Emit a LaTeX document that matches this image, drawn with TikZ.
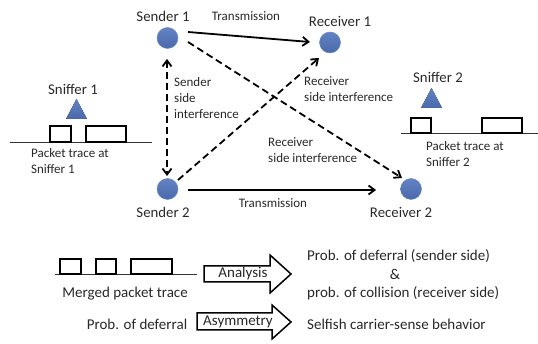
\documentclass[tikz,border=0pt]{standalone}
\usepackage{fontspec}
\setmainfont{Carlito}
\usetikzlibrary{arrows.meta}
\definecolor{circblue}{RGB}{79,114,186}
\definecolor{txt}{RGB}{40,40,40}
\begin{document}
\begin{tikzpicture}[x=1pt,y=-1pt,
  lbl/.style={font=\fontsize{14.8}{17}\selectfont, text=txt, inner sep=0pt},
  small/.style={font=\fontsize{13}{16}\selectfont, text=txt, inner sep=0pt, align=left},
  big/.style={font=\fontsize{15}{18.5}\selectfont, text=txt, inner sep=0pt},
  station/.style={circle, minimum size=21pt, inner sep=0pt, top color=circblue!88!white, bottom color=circblue!92!black, draw=circblue!80!white, line width=0.5pt},
  sniffer/.style={top color=circblue!88!white, bottom color=circblue!92!black},
  tx/.style={line width=1.8pt, -{Straight Barb[length=6pt,width=9pt]}},
  intf/.style={line width=1.8pt, dash pattern=on 7pt off 4pt, -{Straight Barb[length=6pt,width=9pt]}},
  pkt/.style={draw, line width=1.5pt},
  trace/.style={line width=0.7pt, draw=black!80},
  bigarrow/.style={draw, line width=1.5pt, fill=white}
]
\useasboundingbox (0,0) rectangle (538,344);

% stations
\node[station] (s1) at (167.5,38) {};
\node[station] (r1) at (330,42.5) {};
\node[station] (s2) at (167.5,189) {};
\node[station] (r2) at (411,189) {};

\node[lbl] (s1l) at (163,16) {Sender 1};
\node[lbl] (r1l) at (340,21) {Receiver 1};
\node[lbl] (s2l) at (163,212) {Sender 2};
\node[lbl] (r2l) at (401,212) {Receiver 2};

% connectors
\coordinate (t1a) at (188,32);
\coordinate (t1b) at (310,42);
\draw[tx] (t1a) -- (t1b);
\node[small] (t1l) at (246,16) {Transmission};

\coordinate (t2a) at (188,190);
\coordinate (t2b) at (376,190);
\draw[tx] (t2a) -- (t2b);
\node[small] (t2l) at (273,203) {Transmission};

\coordinate (v1) at (167,59);
\coordinate (v2) at (167,176);
\draw[intf,{Straight Barb[length=6pt,width=9pt]}-{Straight Barb[length=6pt,width=9pt]}] (v1) -- (v2);

\coordinate (d1a) at (188,42);
\coordinate (d1b) at (402,178);
\draw[intf] (d1a) -- (d1b);

\coordinate (d2a) at (178,180);
\coordinate (d2b) at (319,58);
\draw[intf] (d2a) -- (d2b);

\node[small, anchor=west] (ssi) at (174,98.5) {Sender\\side\\interference};
\node[small, anchor=west] (rsi1) at (304,89) {Receiver\\side interference};
\node[small, anchor=west] (rsi2) at (268,150) {Receiver\\side interference};

% sniffer 1
\node[lbl] (sn1l) at (73,89.5) {Sniffer 1};
\coordinate (tr1a) at (66,119);
\coordinate (tr1b) at (87,119);
\coordinate (tr1c) at (76.5,99);
\fill[sniffer] (tr1a) -- (tr1b) -- (tr1c) -- cycle;
\coordinate (l1a) at (10,142);
\coordinate (l1b) at (152,142);
\draw[trace] (l1a) -- (l1b);
\draw[pkt] (50,126) rectangle (71,142);
\draw[pkt] (86,126) rectangle (126,142);
\node[small, anchor=west] (pt1) at (31,161) {Packet trace at\\Sniffer 1};

% sniffer 2
\node[lbl] (sn2l) at (438,77) {Sniffer 2};
\coordinate (tr2a) at (421,108);
\coordinate (tr2b) at (442,108);
\coordinate (tr2c) at (431.5,88);
\fill[sniffer] (tr2a) -- (tr2b) -- (tr2c) -- cycle;
\coordinate (l2a) at (401,133);
\coordinate (l2b) at (538,133);
\draw[trace] (l2a) -- (l2b);
\draw[pkt] (411,118) rectangle (431,133);
\draw[pkt] (482,118) rectangle (522,133);
\node[small, anchor=west] (pt2) at (426,154) {Packet trace at\\Sniffer 2};

% merged trace
\coordinate (lma) at (55,274);
\coordinate (lmb) at (197,274);
\draw[trace] (lma) -- (lmb);
\draw[pkt] (60,259) rectangle (81,274);
\draw[pkt] (96,259) rectangle (116,274);
\draw[pkt] (131,259) rectangle (172,274);
\node[big] (mpt) at (125,294) {Merged packet trace};

% big arrows
\draw[bigarrow] (204,266) -- (270,266) -- (270,255) -- (291,274) -- (270,293) -- (270,282) -- (204,282) -- cycle;
\node[big] (ana) at (243,274) {Analysis};
\draw[bigarrow] (197,313) -- (272,313) -- (272,305) -- (291,322) -- (272,339) -- (272,330) -- (197,330) -- cycle;
\node[big] (asy) at (238,322) {Asymmetry};

\node[big] (pod) at (137,324) {Prob. of deferral};

\node[big, anchor=west] (res1) at (307,256) {Prob. of deferral (sender side)};
\node[big] (amp) at (395,274) {\&};
\node[big, anchor=west] (res2) at (307,293) {prob. of collision (receiver side)};
\node[big, anchor=west] (res3) at (307,324) {Selfish carrier-sense behavior};
\end{tikzpicture}
\end{document}
